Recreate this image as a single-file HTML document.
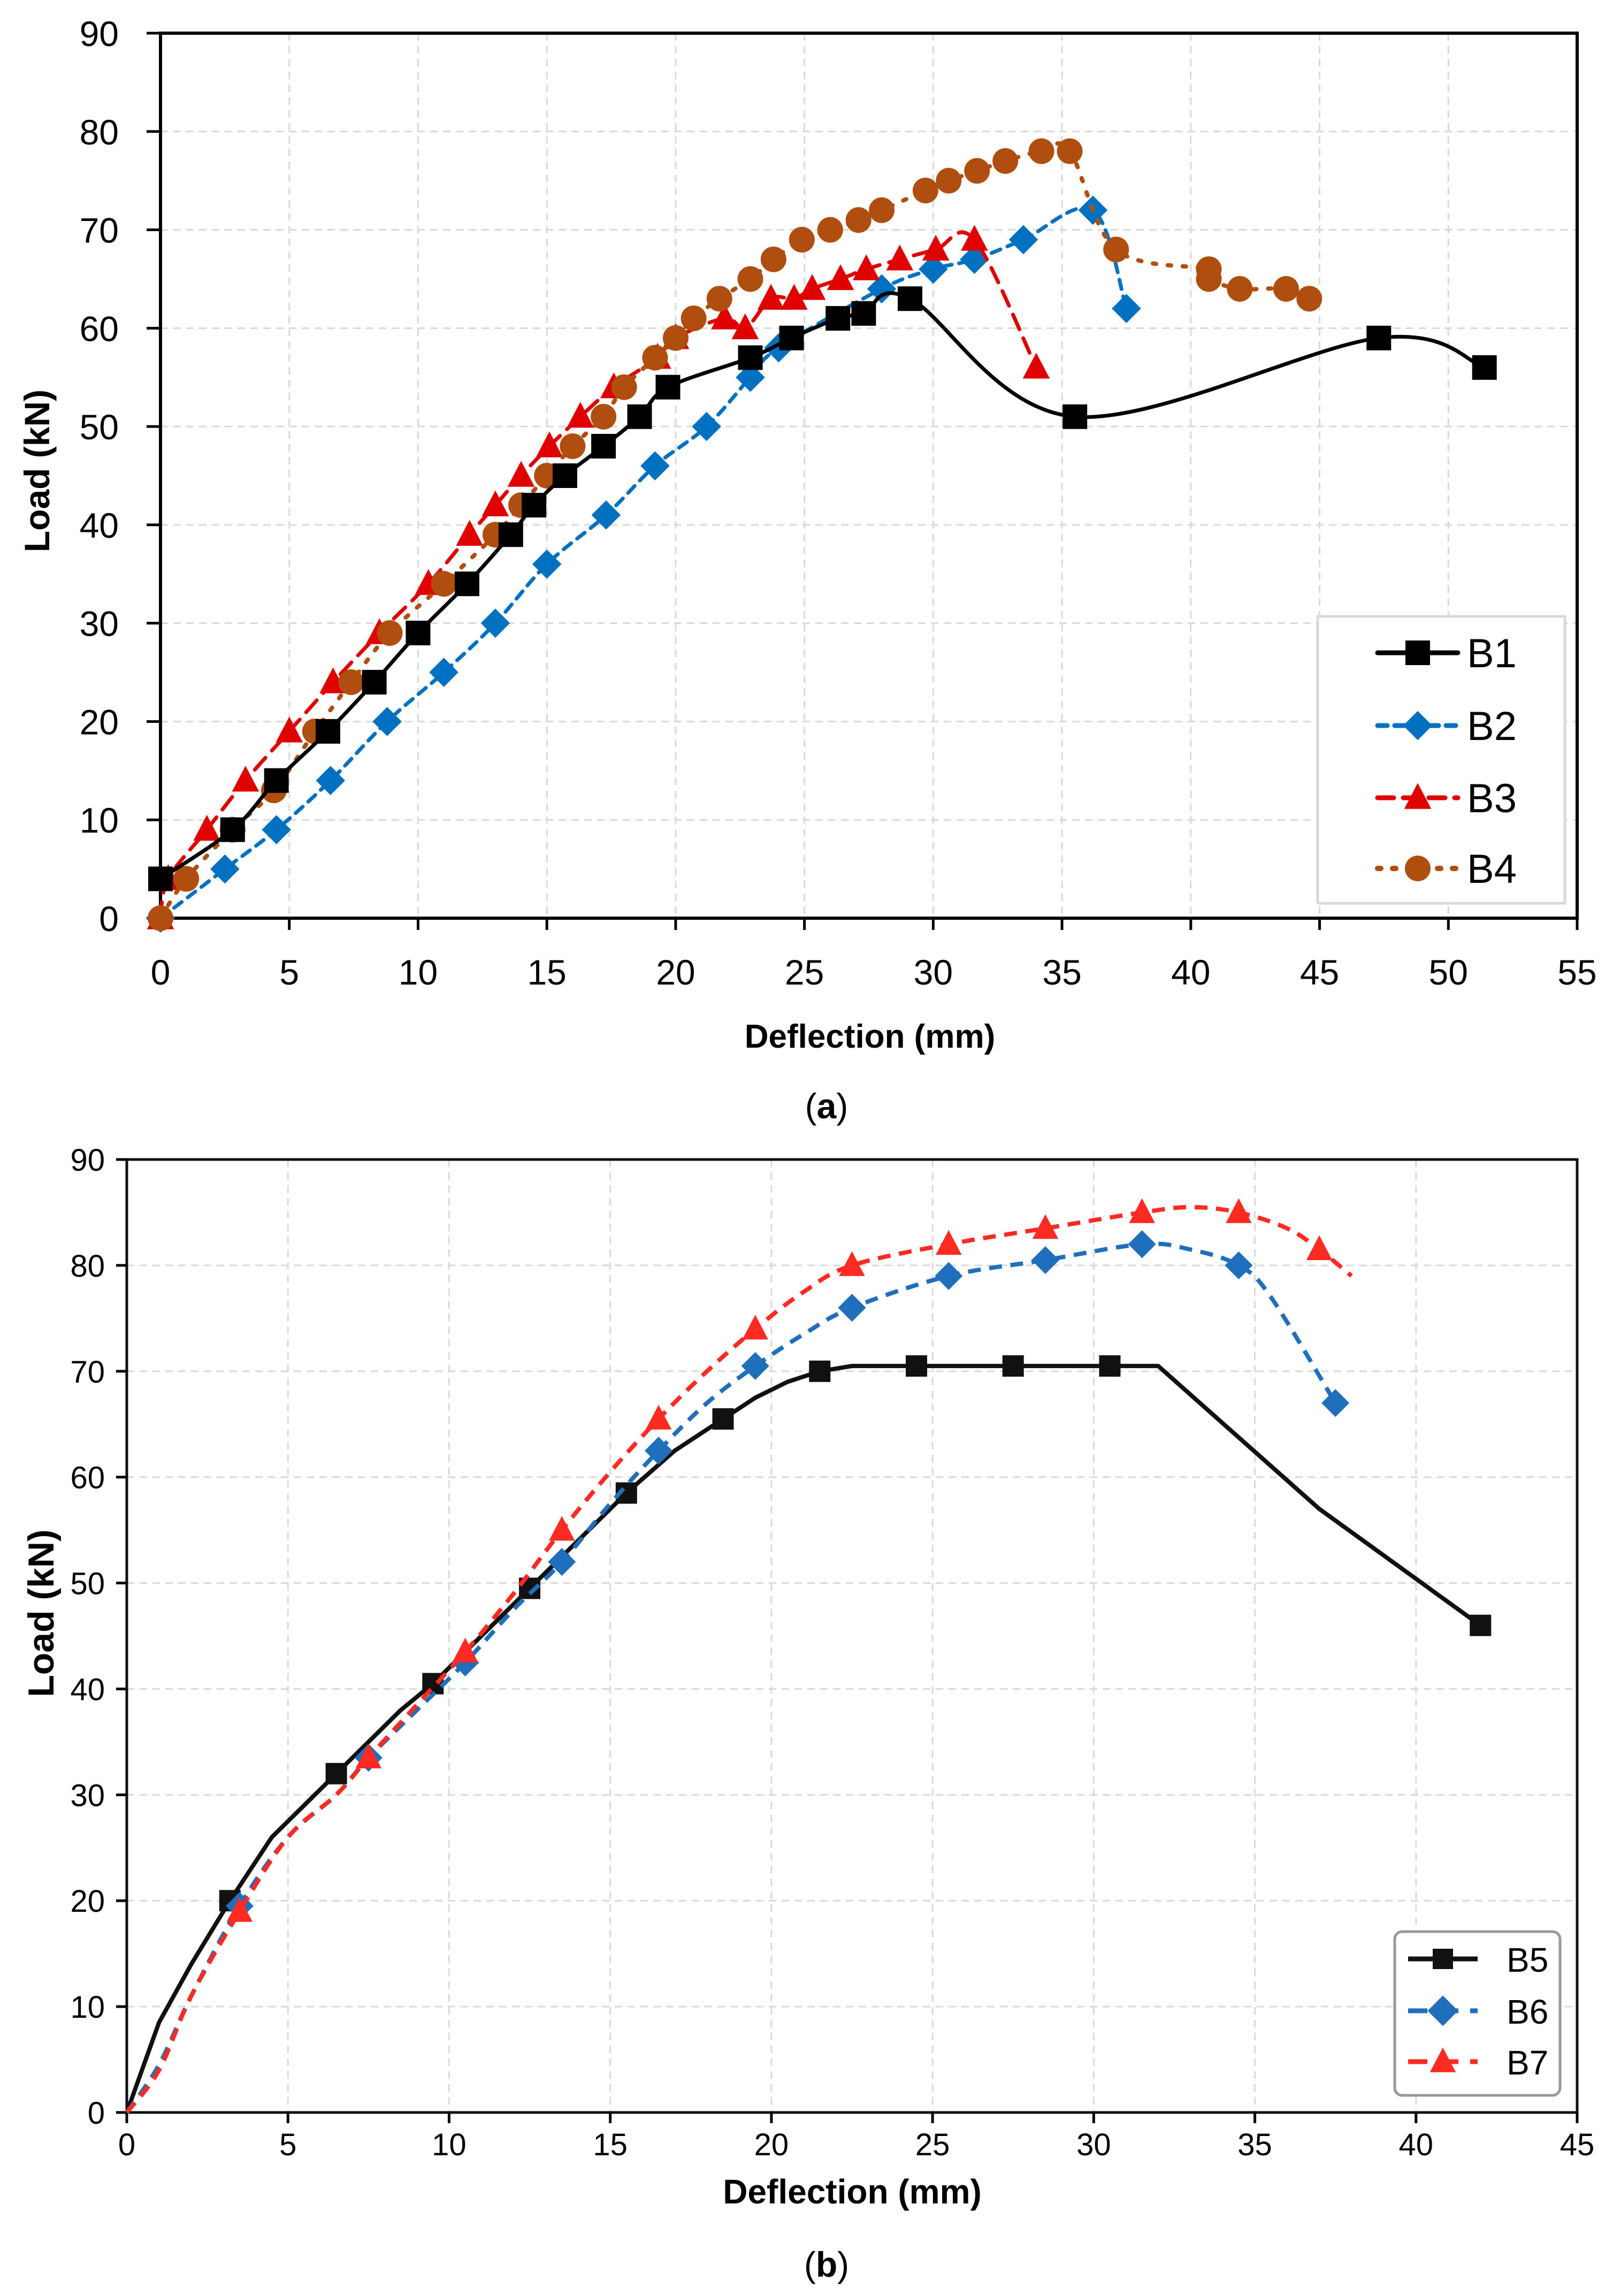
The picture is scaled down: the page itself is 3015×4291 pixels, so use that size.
<!DOCTYPE html>
<html><head><meta charset="utf-8">
<style>
html,body{margin:0;padding:0;background:#fff;}
svg{display:block;}
text{font-family:"Liberation Sans",sans-serif;}
</style></head>
<body>
<svg id="fig" width="3015" height="4291" viewBox="0 0 3015 4291" xmlns="http://www.w3.org/2000/svg">
<rect x="0" y="0" width="3015" height="4291" fill="#fff"/>
<g id="chartA"></g>
<g id="chartB"></g>
<text x="1545" y="2090" font-family="Liberation Serif,serif" font-size="66" text-anchor="middle">(<tspan font-weight="bold">a</tspan>)</text>
<text x="1545" y="4255" font-family="Liberation Serif,serif" font-size="66" text-anchor="middle">(<tspan font-weight="bold">b</tspan>)</text>
</svg>
<script>
// ---------- Chart A data ----------
const xTicksA = [0,5,10,15,20,25,30,35,40,45,50,55];
const yTicksA = [0,10,20,30,40,50,60,70,80,90];
const seriesNamesA = ["B1","B2","B3","B4"];
const b1X = [0,2.8,4.5,6.5,8.3,10,11.9,13.6,14.5,15.7,17.2,18.6,19.7,22.9,24.5,26.3,27.3,29.1,35.5,47.3,51.4];
const b1Y = [4,9,14,19,24,29,34,39,42,45,48,51,54,57,59,61,61.5,63,51,59,56];
const b2X = [0,2.5,4.5,6.6,8.8,11,13,15,17.3,19.2,21.2,22.9,24,28,30,31.6,33.5,36.2,37.5];
const b2Y = [0,5,9,14,20,25,30,36,41,46,50,55,58,64,66,67,69,72,62];
const b3X = [0,0.3,1.8,3.3,5,6.7,8.5,10.4,12,13,14,15.1,16.3,17.6,19.3,20,21.9,22.7,23.7,24.6,25.3,26.4,27.4,28.7,30.1,31.6,34];
const b3Y = [0,4,9,14,19,24,29,34,39,42,45,48,51,54,57,59,61,60,63,63,64,65,66,67,68,69,56];
const b4X = [0,1,2.8,4.4,6,7.4,8.9,11,13,14,15,16,17.2,18,19.2,20,20.7,21.7,22.9,23.8,24.9,26,27.1,28,29.7,30.6,31.7,32.8,34.2,35.3,37.1,40.7,40.7,41.9,43.7,44.6];
const b4Y = [0,4,9,13,19,24,29,34,39,42,45,48,51,54,57,59,61,63,65,67,69,70,71,72,74,75,76,77,78,78,68,66,65,64,64,63];

// ---------- Chart B data ----------
const xTicksB = [0,5,10,15,20,25,30,35,40,45];
const yTicksB = [0,10,20,30,40,50,60,70,80,90];
const b5LineX = [0,1,2,3.2,4.5,5.5,6.5,8.5,9.5,11,12.5,14,15.5,17,18.5,19.5,20.5,21.5,22.5,24.5,27.5,30.5,32,37,42];
const b5LineY = [0,8.5,14,20,26,29,32,38,40.5,45,49.5,54,58.5,62.5,65.5,67.5,69,70,70.5,70.5,70.5,70.5,70.5,57,46];
const b5MarkX = [3.2,6.5,9.5,12.5,15.5,18.5,21.5,24.5,27.5,30.5,42];
const b5MarkY = [20,32,40.5,49.5,58.5,65.5,70,70.5,70.5,70.5,46];
const b6LineX = [0,1,2,3.5,5,6.5,7.5,9,10.5,12,13.5,15,16.5,18,19.5,21,22.5,25.5,28.5,31.5,33,34.5,35.5,37.5];
const b6LineY = [0,4.5,11,19.5,26,30,33.5,38,42.5,47.5,52,57.5,62.5,67,70.5,73.5,76,79,80.5,82,81.5,80,77,67];
const b6MarkX = [3.5,7.5,10.5,13.5,16.5,19.5,22.5,25.5,28.5,31.5,34.5,37.5];
const b6MarkY = [19.5,33.5,42.5,52,62.5,70.5,76,79,80.5,82,80,67];
const b7LineX = [0,1,2,3.5,5,6.5,7.5,9,10.5,12,13.5,15,16.5,18,19.5,21,22.5,25.5,28.5,31.5,33,34.5,36,37,38];
const b7LineY = [0,4,11,19,26,30,33.5,38.5,43.5,49,55,60.5,65.5,70,74,77.5,80,82,83.5,85,85.5,85,83.5,81.5,79];
const b7MarkX = [3.5,7.5,10.5,13.5,16.5,19.5,22.5,25.5,28.5,31.5,34.5,37];
const b7MarkY = [19,33.5,43.5,55,65.5,74,80,82,83.5,85,85,81.5];

const NS="http://www.w3.org/2000/svg";
function mk(parent, tag, attrs){const e=document.createElementNS(NS,tag);for(const k in attrs)e.setAttribute(k,attrs[k]);parent.appendChild(e);return e;}
function smooth(pts){
  if(pts.length<2) return "";
  let d="M"+pts[0][0]+","+pts[0][1];
  for(let i=0;i<pts.length-1;i++){
    const p0=pts[Math.max(0,i-1)],p1=pts[i],p2=pts[i+1],p3=pts[Math.min(pts.length-1,i+2)];
    const t=0.17;
    const c1x=p1[0]+(p2[0]-p0[0])*t,c1y=p1[1]+(p2[1]-p0[1])*t;
    const c2x=p2[0]-(p3[0]-p1[0])*t,c2y=p2[1]-(p3[1]-p1[1])*t;
    d+=" C"+c1x+","+c1y+" "+c2x+","+c2y+" "+p2[0]+","+p2[1];
  }
  return d;
}
function poly(pts){return "M"+pts.map(p=>p[0]+","+p[1]).join(" L");}
function marker(g, type, cx, cy, s, color){
  let e;
  if(type==="square") e=mk(g,"rect",{x:cx-s/2,y:cy-s/2,width:s,height:s,fill:color});
  else if(type==="diamond") e=mk(g,"polygon",{points:`${cx},${cy-s*0.62} ${cx+s*0.62},${cy} ${cx},${cy+s*0.62} ${cx-s*0.62},${cy}`,fill:color});
  else if(type==="triangle") e=mk(g,"polygon",{points:`${cx},${cy-s*0.6} ${cx+s*0.55},${cy+s*0.45} ${cx-s*0.55},${cy+s*0.45}`,fill:color});
  else e=mk(g,"circle",{cx:cx,cy:cy,r:s/2,fill:color});
  return e;
}

// ================= Chart A =================
(function(){
  const g=document.getElementById("chartA");
  const L=300,R=2948,T=62,B=1716,xMax=55,yMax=90;
  const sx=v=>L+(v/xMax)*(R-L), sy=v=>B-(v/yMax)*(B-T);
  const grid=mk(g,"g",{});
  
  
  xTicksA.forEach(v=>{ if(v>0&&v<xMax) mk(grid,"line",{x1:sx(v),y1:T,x2:sx(v),y2:B,stroke:"#d9d9d9","stroke-width":3,"stroke-dasharray":"14,10"}); });
  yTicksA.forEach(v=>{ if(v>0&&v<yMax) mk(grid,"line",{x1:L,y1:sy(v),x2:R,y2:sy(v),stroke:"#d9d9d9","stroke-width":3,"stroke-dasharray":"14,10"}); });
  const frame=mk(g,"rect",{x:L,y:T,width:R-L,height:B-T,fill:"none",stroke:"#000","stroke-width":6});
  
  
  xTicksA.forEach(v=>{
    mk(g,"line",{x1:sx(v),y1:B,x2:sx(v),y2:B+22,stroke:"#000","stroke-width":5});
    const t=mk(g,"text",{x:sx(v),y:1840,"font-size":66,"text-anchor":"middle",fill:"#000"});
    t.textContent=v;
    
    
  });
  yTicksA.forEach(v=>{
    mk(g,"line",{x1:L-26,y1:sy(v),x2:L,y2:sy(v),stroke:"#000","stroke-width":5});
    const t=mk(g,"text",{x:222,y:sy(v)+24,"font-size":66,"text-anchor":"end",fill:"#000"});
    t.textContent=v;
    
    
  });
  const xt=mk(g,"text",{x:1626,y:1958,"font-size":62,"font-weight":"bold","text-anchor":"middle",fill:"#000"});
  xt.textContent="Deflection (mm)";
  
  
  const yt=mk(g,"text",{x:0,y:0,"font-size":66,"font-weight":"bold","text-anchor":"middle",fill:"#000",transform:"translate(92,880) rotate(-90)"});
  yt.textContent="Load (kN)";
  
  

  const defs=[
    {xs:b2X,ys:b2Y,color:"#0070c0",dash:"18,14",w:7,m:"diamond",s:44,name:"series-b2"},
    {xs:b3X,ys:b3Y,color:"#e00000",dash:"30,18",w:7,m:"triangle",s:46,name:"series-b3"},
    {xs:b4X,ys:b4Y,color:"#b04e0f",dash:"6,22",w:8,m:"circle",s:48,name:"series-b4"},
    {xs:b1X,ys:b1Y,color:"#000",dash:"",w:7,m:"square",s:46,name:"series-b1"}
  ];
  defs.forEach(s=>{
    const sg=mk(g,"g",{});
    
    
    const pts=s.xs.map((x,i)=>[sx(x),sy(s.ys[i])]);
    const p=mk(sg,"path",{d:smooth(pts),fill:"none",stroke:s.color,"stroke-width":s.w,"stroke-linecap":"round"});
    if(s.dash) p.setAttribute("stroke-dasharray",s.dash);
    
    
    pts.forEach(q=>{
      const m=marker(sg,s.m,q[0],q[1],s.s,s.color);
      
      
    });
  });

  const lg=mk(g,"g",{});
  
  
  mk(lg,"rect",{x:2463,y:1152,width:462,height:536,fill:"#fff",stroke:"#d9d9d9","stroke-width":5});
  const rows=[1220,1356,1491,1623];
  const lstyle=[["#000","",7,"square",46],["#0070c0","18,14",7,"diamond",44],["#e00000","30,18",7,"triangle",46],["#b04e0f","6,22",8,"circle",48]];
  seriesNamesA.forEach((n,i)=>{
    const st=lstyle[i],y=rows[i];
    const ln=mk(lg,"line",{x1:2575,y1:y,x2:2725,y2:y,stroke:st[0],"stroke-width":st[2]+2,"stroke-linecap":"round"});
    if(st[1]) ln.setAttribute("stroke-dasharray",st[1]);
    marker(lg,st[3],2650,y,st[4],st[0]);
    const t=mk(lg,"text",{x:2742,y:y+27,"font-size":76,fill:"#000"});
    t.textContent=n;
    
    
  });
})();

// ================= Chart B =================
(function(){
  const g=document.getElementById("chartB");
  const L=237,R=2948,T=2167,B=3948,xMax=45,yMax=90;
  const sx=v=>L+(v/xMax)*(R-L), sy=v=>B-(v/yMax)*(B-T);
  const grid=mk(g,"g",{});
  
  
  xTicksB.forEach(v=>{ if(v>0&&v<xMax) mk(grid,"line",{x1:sx(v),y1:T,x2:sx(v),y2:B,stroke:"#d9d9d9","stroke-width":3,"stroke-dasharray":"14,10"}); });
  yTicksB.forEach(v=>{ if(v>0&&v<yMax) mk(grid,"line",{x1:L,y1:sy(v),x2:R,y2:sy(v),stroke:"#d9d9d9","stroke-width":3,"stroke-dasharray":"14,10"}); });
  const frame=mk(g,"rect",{x:L,y:T,width:R-L,height:B-T,fill:"none",stroke:"#111","stroke-width":5});
  
  
  xTicksB.forEach(v=>{
    mk(g,"line",{x1:sx(v),y1:B,x2:sx(v),y2:B+20,stroke:"#000","stroke-width":5});
    const t=mk(g,"text",{x:sx(v),y:4028,"font-size":58,"text-anchor":"middle",fill:"#000"});
    t.textContent=v;
    
    
  });
  yTicksB.forEach(v=>{
    mk(g,"line",{x1:L-20,y1:sy(v),x2:L,y2:sy(v),stroke:"#000","stroke-width":5});
    const t=mk(g,"text",{x:196,y:sy(v)+21,"font-size":58,"text-anchor":"end",fill:"#000"});
    t.textContent=v;
    
    
  });
  const xt=mk(g,"text",{x:1593,y:4118,"font-size":64,"font-weight":"bold","text-anchor":"middle",fill:"#000"});
  xt.textContent="Deflection (mm)";
  
  
  const yt=mk(g,"text",{x:0,y:0,"font-size":68,"font-weight":"bold","text-anchor":"middle",fill:"#000",transform:"translate(100,3015) rotate(-90)"});
  yt.textContent="Load (kN)";
  
  

  const defs=[
    {lx:b5LineX,ly:b5LineY,mx:b5MarkX,my:b5MarkY,color:"#111",dash:"",m:"square",s:40,name:"series-b5",lin:true},
    {lx:b6LineX,ly:b6LineY,mx:b6MarkX,my:b6MarkY,color:"#1f6fbd",dash:"24,16",m:"diamond",s:42,name:"series-b6",lin:false},
    {lx:b7LineX,ly:b7LineY,mx:b7MarkX,my:b7MarkY,color:"#ff2a22",dash:"24,16",m:"triangle",s:44,name:"series-b7",lin:false}
  ];
  defs.forEach(s=>{
    const sg=mk(g,"g",{});
    
    
    const pts=s.lx.map((x,i)=>[sx(x),sy(s.ly[i])]);
    const p=mk(sg,"path",{d:s.lin?poly(pts):smooth(pts),fill:"none",stroke:s.color,"stroke-width":8,"stroke-linejoin":"round"});
    if(s.dash) p.setAttribute("stroke-dasharray",s.dash);
    
    
    s.mx.forEach((x,i)=>{
      const m=marker(sg,s.m,sx(x),sy(s.my[i]),s.s,s.color);
      
      
    });
  });

  const lg=mk(g,"g",{});
  
  
  mk(lg,"rect",{x:2607,y:3610,width:309,height:306,rx:14,fill:"#fff",stroke:"#999","stroke-width":5});
  const names=["B5","B6","B7"],rows=[3661,3758,3853];
  const st=[["#111","",  "square",38],["#1f6fbd","36,22","diamond",46],["#ff2a22","36,22","triangle",44]];
  names.forEach((n,i)=>{
    const y=rows[i];
    const ln=mk(lg,"line",{x1:2632,y1:y,x2:2762,y2:y,stroke:st[i][0],"stroke-width":9});
    if(st[i][1]) ln.setAttribute("stroke-dasharray",st[i][1]);
    marker(lg,st[i][2],2697,y,st[i][3],st[i][0]);
    const t=mk(lg,"text",{x:2816,y:y+24,"font-size":64,fill:"#000"});
    t.textContent=n;
    
    
  });
})();
</script>
</body></html>
